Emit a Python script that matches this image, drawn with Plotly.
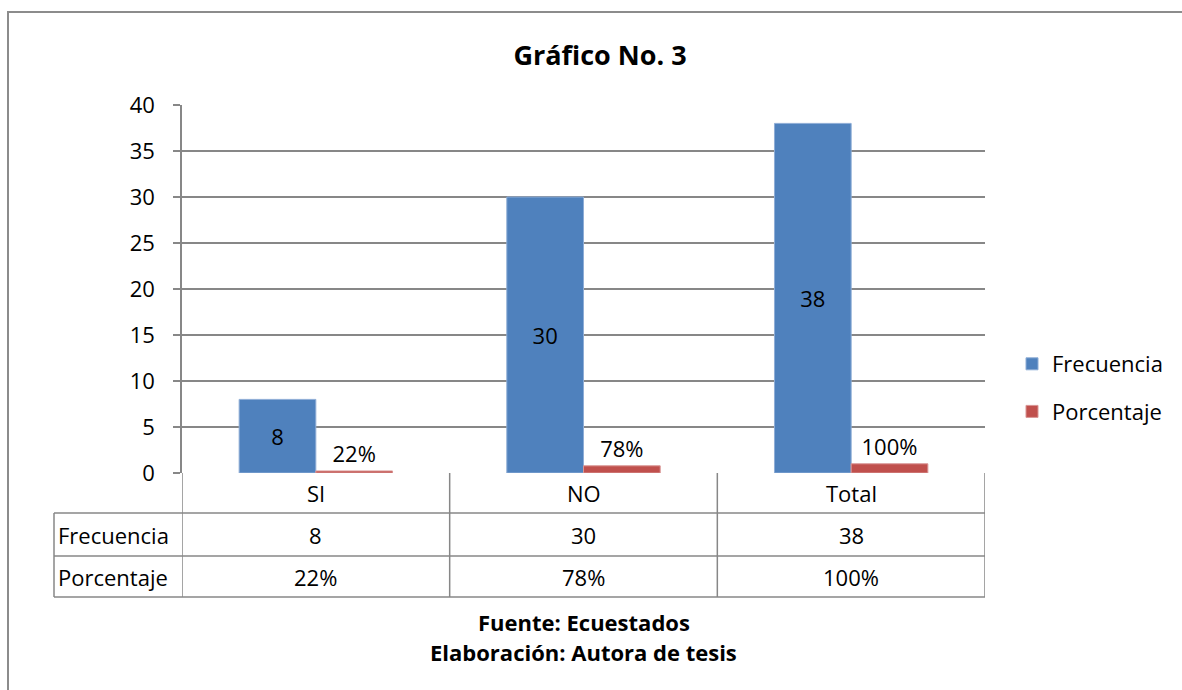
import plotly.graph_objects as go

categories = ["SI", "NO", "Total"]
frecuencia = [8, 30, 38]
porcentaje = [0.22, 0.78, 1.00]
frec_labels = ["8", "30", "38"]
porc_labels = ["22%", "78%", "100%"]
y_ticks = [0, 5, 10, 15, 20, 25, 30, 35, 40]
series_names = ["Frecuencia", "Porcentaje"]

FONT = "Open Sans"
FS = 22
GRID = "#878787"
BLUE = "#4F81BD"
RED = "#C0504D"

# plot area in pixels: x 182..985, y 105..473
PL, PR, PT, PB = 182, 985, 105, 473
W, H = 1182, 690
pw, ph = PR - PL, PB - PT

def px2x(px):
    return (px - PL) / pw

def px2y(py):
    return (PB - py) / ph

fig = go.Figure()
fig.add_trace(go.Bar(
    x=categories, y=frecuencia, name=series_names[0],
    marker=dict(color=BLUE, line=dict(color="#8EADD6", width=1)),
    text=frec_labels, textposition="inside", insidetextanchor="middle",
    textfont=dict(family=FONT, size=FS, color="black"),
    legendgroup="a",
))
fig.add_trace(go.Bar(
    x=categories, y=porcentaje, name=series_names[1],
    marker=dict(color=RED, line=dict(color="#D99594", width=1)),
    text=porc_labels, textposition="outside",
    textfont=dict(family=FONT, size=FS, color="black"),
    cliponaxis=False,
    legendgroup="b",
))

shapes = []
line = dict(color=GRID, width=1.5)
# table horizontal lines
for py in [513, 556, 597]:
    shapes.append(dict(type="line", xref="paper", yref="paper",
                       x0=px2x(54), x1=1, y0=px2y(py), y1=px2y(py), line=line))
# vertical lines at category boundaries
for xb in [-0.5, 0.5, 1.5, 2.5]:
    shapes.append(dict(type="line", xref="x", yref="paper",
                       x0=xb, x1=xb, y0=0, y1=px2y(597), line=line))
# left edge of row header column
shapes.append(dict(type="line", xref="paper", yref="paper",
                   x0=px2x(54), x1=px2x(54), y0=px2y(513), y1=px2y(597), line=line))
# outer chart border
shapes.append(dict(type="rect", xref="paper", yref="paper",
                   x0=px2x(8), x1=px2x(W + 20), y0=px2y(H + 20), y1=px2y(12),
                   line=dict(color="#8c8c8c", width=2), layer="below"))

tf = dict(family=FONT, size=FS, color="black")
annotations = []
for i, c in enumerate(categories):
    annotations.append(dict(x=c, y=px2y(493), xref="x", yref="paper", text=c,
                            xanchor="center", yanchor="middle", showarrow=False, font=tf))
    annotations.append(dict(x=c, y=px2y(535), xref="x", yref="paper", text=frec_labels[i],
                            xanchor="center", yanchor="middle", showarrow=False, font=tf))
    annotations.append(dict(x=c, y=px2y(577), xref="x", yref="paper", text=porc_labels[i],
                            xanchor="center", yanchor="middle", showarrow=False, font=tf))
for name, py in zip(series_names, [535, 577]):
    annotations.append(dict(x=px2x(56), y=px2y(py), xref="paper", yref="paper", text=name,
                            xanchor="left", yanchor="middle", showarrow=False, font=tf))
annotations.append(dict(x=0.5, y=px2y(622), xref="paper", yref="paper",
                        text="<b>Fuente: Ecuestados</b>", showarrow=False,
                        xanchor="center", yanchor="middle",
                        font=dict(family=FONT, size=22, color="black")))
annotations.append(dict(x=0.5, y=px2y(652), xref="paper", yref="paper",
                        text="<b>Elaboración: Autora de tesis</b>", showarrow=False,
                        xanchor="center", yanchor="middle",
                        font=dict(family=FONT, size=22, color="black")))

fig.update_layout(
    width=W, height=H,
    margin=dict(l=PL, r=W - PR, t=PT, b=H - PB),
    paper_bgcolor="white", plot_bgcolor="white",
    title=dict(text="<b>Gráfico No. 3</b>", x=600 / W, xanchor="center",
               y=1 - 56 / H, yanchor="middle", xref="container", yref="container",
               font=dict(family=FONT, size=27, color="black")),
    barmode="group", bargap=0.427, bargroupgap=0,
    showlegend=True,
    legend=dict(x=px2x(1012), xanchor="left", y=px2y(388), yanchor="middle",
                font=tf, traceorder="grouped", tracegroupgap=16, itemwidth=30,
                bgcolor="rgba(0,0,0,0)"),
    xaxis=dict(range=[-0.5, 2.5], showticklabels=False, ticks="", showgrid=False,
               showline=False, zeroline=False),
    yaxis=dict(range=[0, 40], tickvals=y_ticks, showgrid=True, gridcolor=GRID, gridwidth=1.5,
               showline=True, linecolor=GRID, linewidth=1.5, ticks="outside", ticklen=7,
               tickcolor=GRID, tickwidth=1.5, zeroline=False, ticklabelstandoff=14,
               tickfont=tf),
    shapes=shapes, annotations=annotations,
    uniformtext=dict(mode=False),
)

fig.write_html("out.html")
